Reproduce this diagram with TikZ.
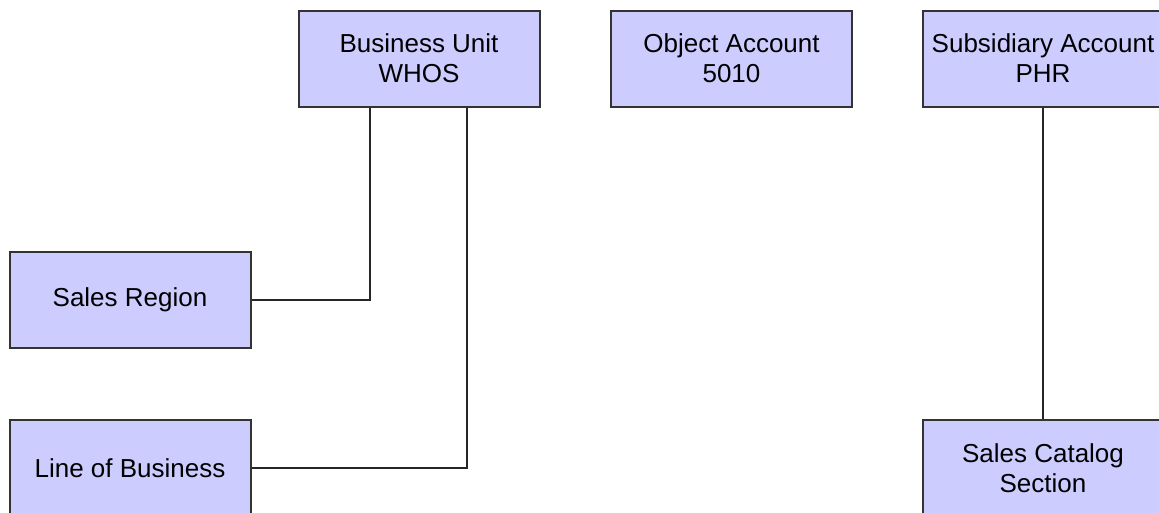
\documentclass[tikz,border=0pt]{standalone}
\usepackage{fontspec}
\setmainfont{Liberation Sans}
\definecolor{boxfill}{HTML}{CCCCFF}
\definecolor{boxline}{HTML}{333333}
\begin{document}
\begin{tikzpicture}[x=1pt,y=-1pt,
  unitbox/.style={draw=boxline, fill=boxfill, line width=2pt,
    minimum width=241pt, minimum height=96pt, inner sep=0pt,
    align=center, font=\fontsize{26}{30}\selectfont},
  link/.style={draw=black!85, line width=2pt}]
\useasboundingbox (0,0) rectangle (1159,512);
\clip (0,0) rectangle (1159,512);
\node[unitbox] (bu) at (419,58.5) {Business Unit\\WHOS};
\node[unitbox] (oa) at (731.5,58.5) {Object Account\\5010};
\node[unitbox] (sa) at (1043,58.5) {Subsidiary Account\\PHR};
\node[unitbox] (sr) at (130,300) {Sales Region};
\node[unitbox] (lb) at (130,468) {Line of Business};
\node[unitbox] (sc) at (1043,468) {Sales Catalog\\Section};
\draw[link] ([xshift=-49pt]bu.south) |- (sr.east);
\draw[link] ([xshift=48pt]bu.south) |- (lb.east);
\draw[link] (sa.south) -- (sc.north);
\end{tikzpicture}
\end{document}
